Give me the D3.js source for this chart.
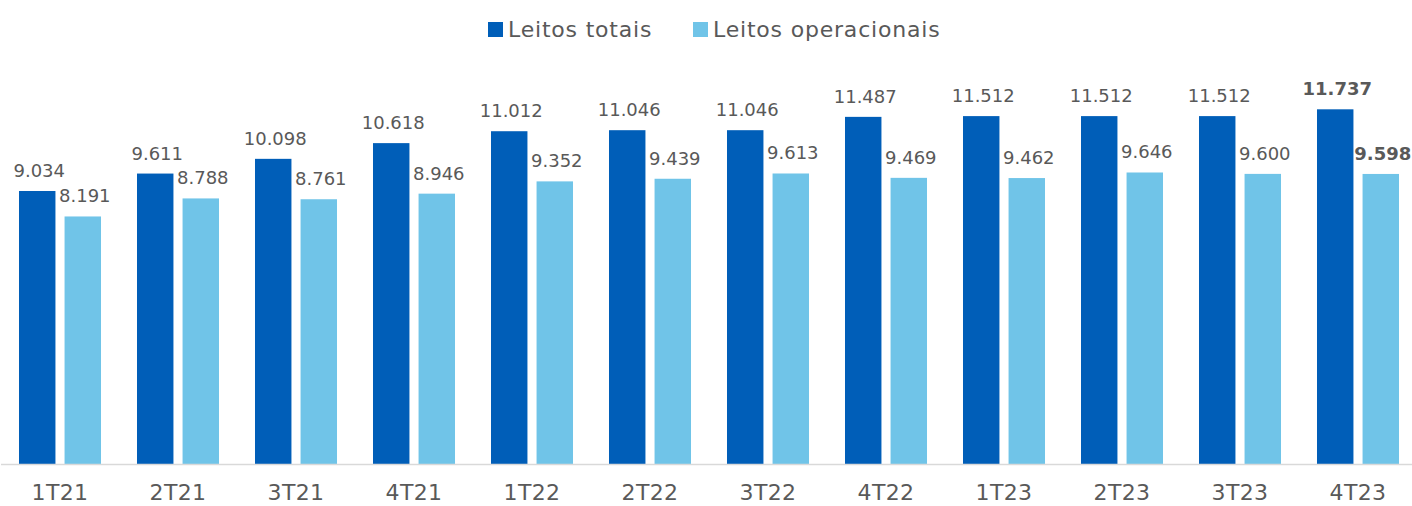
<!DOCTYPE html>
<html>
<head>
<meta charset="utf-8">
<script src="https://cdn.jsdelivr.net/npm/d3@7"></script>
<style>
  body { margin: 0; background: #fff; }
  svg text { font-family: "DejaVu Sans", Verdana, sans-serif; fill: #595959; }
</style>
</head>
<body>
<svg width="1412" height="506"></svg>
<script>
// Data
var quarters = ['1T21', '2T21', '3T21', '4T21', '1T22', '2T22', '3T22', '4T22', '1T23', '2T23', '3T23', '4T23'];
var leitosTotais = [9034, 9611, 10098, 10618, 11012, 11046, 11046, 11487, 11512, 11512, 11512, 11737];
var leitosOperacionais = [8191, 8788, 8761, 8946, 9352, 9439, 9613, 9469, 9462, 9646, 9600, 9598];
var seriesNames = ['Leitos totais', 'Leitos operacionais'];
var seriesColors = ['#005EB8', '#70C4E8'];

var svg = d3.select('svg');
var baseY = 464;

// pt-BR number format (dot as thousands separator)
var fmt = d3.formatLocale({decimal: ',', thousands: '.', grouping: [3], currency: ['R$', '']}).format(',d');

var rows = quarters.map(function(q, i) {
    return {q: q, values: [leitosTotais[i], leitosOperacionais[i]], last: i === quarters.length - 1};
});

var x0 = d3.scaleBand().domain(quarters).range([1, 1417])
    .paddingInner(0.305).paddingOuter(0.1525);
var x1 = d3.scaleBand().domain([0, 1]).range([0, x0.bandwidth()]).paddingInner(0.2);
var y = d3.scaleLinear().domain([0, 13000]).range([baseY, baseY - 13000 * 0.03022]);

// Legend
var legend = svg.append('g');
var legendX = [488, 693];
seriesNames.forEach(function(name, i) {
    legend.append('rect')
        .attr('x', legendX[i]).attr('y', 22)
        .attr('width', 15).attr('height', 15)
        .attr('fill', seriesColors[i]);
    legend.append('text')
        .attr('x', legendX[i] + 20).attr('y', 37)
        .style('font-size', '22px')
        .style('letter-spacing', '0.8px')
        .text(name);
});

// Bars
var groups = svg.selectAll('.grp')
    .data(rows)
    .enter().append('g')
    .attr('class', 'grp')
    .attr('transform', function(d) { return 'translate(' + x0(d.q) + ',0)'; });

groups.selectAll('rect')
    .data(function(d) { return d.values.map(function(v, i) { return {v: v, i: i, last: d.last}; }); })
    .enter().append('rect')
    .attr('x', function(d) { return x1(d.i); })
    .attr('y', function(d) { return y(d.v); })
    .attr('width', x1.bandwidth())
    .attr('height', function(d) { return baseY - y(d.v); })
    .attr('fill', function(d) { return seriesColors[d.i]; });

groups.selectAll('text')
    .data(function(d) { return d.values.map(function(v, i) { return {v: v, i: i, last: d.last}; }); })
    .enter().append('text')
    .attr('x', function(d) { return x1(d.i) + x1.bandwidth() / 2 + 2; })
    .attr('y', function(d) { return y(d.v) - 14; })
    .attr('text-anchor', 'middle')
    .style('font-size', '18px')
    .style('font-weight', function(d) { return d.last ? 'bold' : 'normal'; })
    .text(function(d) { return fmt(d.v); });

// Axis
var xAxis = svg.append('g')
    .attr('transform', 'translate(0,' + baseY + ')')
    .call(d3.axisBottom(x0).tickSize(0).tickPadding(20.5));
xAxis.select('.domain').attr('stroke', '#D9D9D9').attr('stroke-width', 1.5).attr('d', 'M1,0.5H1412');
xAxis.selectAll('text')
    .style('font-size', '22px')
    .style('font-family', '"DejaVu Sans", Verdana, sans-serif')
    .style('letter-spacing', '0.4px')
    .attr('fill', '#595959');
</script>
</body>
</html>
